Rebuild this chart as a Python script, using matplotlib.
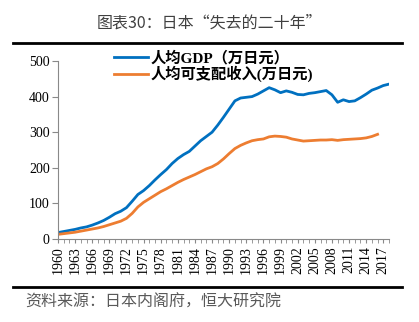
import numpy as np
import matplotlib
matplotlib.use("Agg")
import matplotlib.pyplot as plt
from matplotlib import font_manager

names = sorted({f.name for f in font_manager.fontManager.ttflist})
serif = 'Liberation Serif' if 'Liberation Serif' in names else 'DejaVu Serif'
plt.rcParams['font.family'] = [serif, 'Noto Sans CJK SC', 'DejaVu Sans']

# per-capita GDP, 1960-2018 (10k yen)
gdp_years = list(range(1960, 2019))
gdp = [18, 21, 24, 27, 31, 34, 39, 45, 52, 61,
       71, 78, 88, 106, 125, 136, 150, 166, 181, 195,
       212, 226, 237, 246, 261, 276, 288, 300, 320, 342,
       365, 388, 396, 398, 400, 407, 416, 425, 419, 411,
       416, 412, 406, 405, 409, 411, 414, 417, 405, 384,
       391, 386, 388, 397, 407, 418, 424, 431, 435]

# per-capita disposable income, 1960-2016 (10k yen)
inc_years = list(range(1960, 2017))
income = [13, 15, 17, 19, 22, 25, 28, 31, 35, 40,
          45, 50, 58, 72, 90, 103, 113, 123, 133, 141,
          150, 159, 167, 174, 181, 189, 197, 203, 212, 225,
          240, 254, 263, 270, 276, 279, 281, 287, 289, 288,
          286, 281, 278, 275, 276, 277, 278, 278, 279, 277,
          279, 280, 281, 282, 284, 288, 294]

label_years = list(range(1960, 2018, 3))

fig = plt.figure(figsize=(4.19, 3.22), dpi=100)
ax = fig.add_axes([0.1384, 0.2578, 0.79, 0.5528])

ax.plot(gdp_years, gdp, color='#0070C0', lw=2.0, label='人均GDP（万日元）')
ax.plot(inc_years, income, color='#ED7D31', lw=2.0, label='人均可支配收入(万日元)')

ax.set_xlim(1960, 2018)
ax.set_ylim(0, 500)
ax.set_yticks(range(0, 501, 100))
ax.set_xticks(label_years)
ax.set_xticklabels([str(y) for y in label_years], rotation=90, family=serif)
ax.set_yticklabels([str(v) for v in range(0, 501, 100)], family=serif)
ax.set_xticks(range(1960, 2019), minor=True)

for s in ['top', 'right']:
    ax.spines[s].set_visible(False)
for s in ['left', 'bottom']:
    ax.spines[s].set_color('#898989')
    ax.spines[s].set_linewidth(0.8)
ax.tick_params(axis='both', which='both', color='#898989', labelsize=10, pad=2)
ax.tick_params(axis='x', which='both', length=3)
ax.tick_params(axis='y', length=4)

leg = fig.legend(loc='center left', bbox_to_anchor=(0.24, 0.793), frameon=False,
                 handlelength=2.2, handletextpad=0.2, labelspacing=0.0,
                 prop={'family': [serif, 'Noto Sans CJK SC'], 'weight': 'bold', 'size': 11})

fig.text(0.5, 0.929, '图表30：日本“失去的二十年”', ha='center', va='center',
         fontsize=11.5, color='#404040', weight='light',
         family=['Noto Sans CJK SC', 'DejaVu Sans'])

# heavy rules above and below the chart
fig.add_artist(plt.Line2D([0.031, 0.959], [0.866, 0.866], color='black', lw=2))
fig.add_artist(plt.Line2D([0.031, 0.959], [0.109, 0.109], color='black', lw=2))

fig.text(0.06, 0.063, '资料来源：日本内阁府，恒大研究院', ha='left', va='center',
         fontsize=11.5, color='#595959', style='italic', weight='light',
         family=['Noto Sans CJK SC', 'DejaVu Sans'])

fig.savefig('out.png', dpi=100)
